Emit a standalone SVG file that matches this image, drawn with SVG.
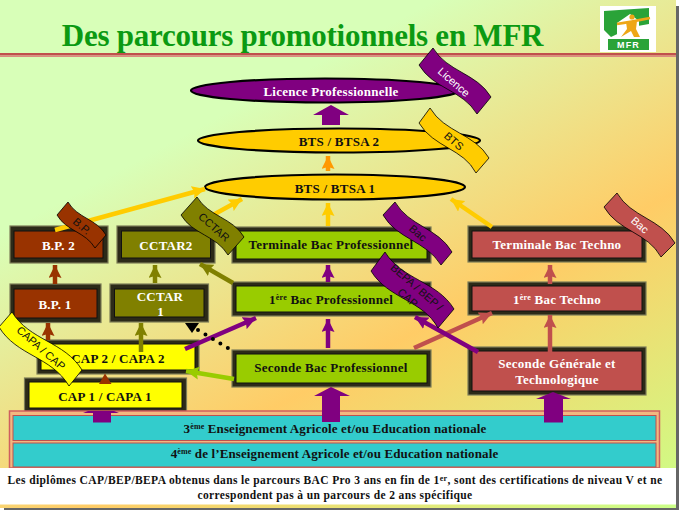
<svg xmlns="http://www.w3.org/2000/svg" width="686" height="520" viewBox="0 0 686 520">
<style>
.t{font-family:"Liberation Serif","Times New Roman",serif;font-weight:bold;text-anchor:middle;font-size:13px;letter-spacing:.25px}
.n{letter-spacing:.12px}
.w{fill:#fff}.k{fill:#111}
.b{font-family:"Liberation Sans",Arial,sans-serif;font-size:11px;text-anchor:middle}
.f{stroke:#7d7d58;stroke-width:1.2;fill:#2c2a18}
.i{stroke:#111;stroke-width:1}
.e{stroke:#000;stroke-width:2.2}
.br{fill:#993300}.ol{fill:#808000}.gr{fill:#99cc00}.ro{fill:#c0504d}.ye{fill:#ffff00}.go{fill:#ffcc00}.pu{fill:#800080}
.c{fill:none;stroke-width:4.5}
.bn{stroke:#000;stroke-width:.8}
.s{font-size:8px}
</style>
<defs>
<linearGradient id="bg" gradientUnits="userSpaceOnUse" x1="0" y1="0" x2="362" y2="673">
<stop offset="0" stop-color="#d8ffb8"/><stop offset=".27" stop-color="#d8ffb8"/><stop offset=".64" stop-color="#ffcc66"/><stop offset="1" stop-color="#ccff88"/>
</linearGradient>
<marker id="mgo" markerUnits="userSpaceOnUse" markerWidth="14" markerHeight="13" refX="13" refY="6.5" orient="auto"><path d="M0,0L13,6.5L0,13L2,6.5Z" fill="#ffcc00"/></marker>
<marker id="mor" markerUnits="userSpaceOnUse" markerWidth="14" markerHeight="13" refX="13" refY="6.5" orient="auto"><path d="M0,0L13,6.5L0,13L2,6.5Z" fill="#ff9900"/></marker>
<marker id="mbr" markerUnits="userSpaceOnUse" markerWidth="14" markerHeight="13" refX="13" refY="6.5" orient="auto"><path d="M0,0L13,6.5L0,13L2,6.5Z" fill="#993300"/></marker>
<marker id="mol" markerUnits="userSpaceOnUse" markerWidth="14" markerHeight="13" refX="13" refY="6.5" orient="auto"><path d="M0,0L13,6.5L0,13L2,6.5Z" fill="#808000"/></marker>
<marker id="mpu" markerUnits="userSpaceOnUse" markerWidth="14" markerHeight="13" refX="13" refY="6.5" orient="auto"><path d="M0,0L13,6.5L0,13L2,6.5Z" fill="#800080"/></marker>
<marker id="mgr" markerUnits="userSpaceOnUse" markerWidth="14" markerHeight="13" refX="13" refY="6.5" orient="auto"><path d="M0,0L13,6.5L0,13L2,6.5Z" fill="#99cc00"/></marker>
<marker id="mro" markerUnits="userSpaceOnUse" markerWidth="14" markerHeight="13" refX="13" refY="6.5" orient="auto"><path d="M0,0L13,6.5L0,13L2,6.5Z" fill="#c0504d"/></marker>
</defs>
<rect width="686" height="520" fill="#fff"/>
<rect x="4" y="6" width="675" height="504" fill="#666"/>
<rect width="676" height="508" fill="url(#bg)"/>
<g id="title">
<rect x="0" y="53" width="676" height="2.5" fill="#c0504d"/><rect x="0" y="55.5" width="676" height="1.5" fill="#dc8a80"/>
<text x="302.500" y="46" text-anchor="middle" font-family="'Liberation Serif','Times New Roman',serif" font-weight="bold" font-size="31" letter-spacing="-.25" fill="#0b9a12">Des parcours promotionnels en MFR</text>
</g>
<g id="logo">
<rect x="600" y="6" width="56" height="46" fill="#fff"/>
<path d="M604,11L649,8V24L632,27L611,37L604,30Z" fill="#2aa338"/>
<path d="M630,14L639,21V34H617V23Z" fill="#fff"/>
<path d="M617,24Q630,22 650,18" stroke="#eea616" stroke-width="2.500" fill="none"/>
<path d="M626,22L637,21L636,29L640,37H634L631,31L621,37L627,29Z" fill="#eea616"/>
<circle cx="632" cy="17" r="2.600" fill="#eea616"/>
<rect x="608" y="39" width="41" height="11" fill="#2aa338"/>
<text x="628.500" y="48" text-anchor="middle" font-family="'Liberation Sans',sans-serif" font-weight="bold" font-size="9" letter-spacing="1.200" fill="#fff">MFR</text>
</g>
<g id="licence"><ellipse class="e pu" cx="325" cy="90.500" rx="134" ry="12"/><text class="t w" x="331" y="96">Licence Professionnelle</text></g>
<g id="bts2"><ellipse class="e go" cx="339" cy="140.500" rx="141" ry="12"/><text class="t k" x="339" y="146">BTS / BTSA 2</text></g>
<g id="bts1"><ellipse class="e go" cx="335" cy="187" rx="130" ry="12.500"/><text class="t k" x="335" y="193">BTS / BTSA 1</text></g>
<g id="bp2"><rect class="f" x="10" y="226" width="98" height="37"/><rect class="i br" x="14" y="231" width="89" height="27"/><text class="t w" x="58.500" y="250">B.P. 2</text></g>
<g id="cctar2"><rect class="f" x="117" y="226" width="98" height="37"/><rect class="i ol" x="121.500" y="231" width="89" height="27"/><text class="t w" x="166" y="250">CCTAR2</text></g>
<g id="term-pro"><rect class="f" x="232" y="227" width="199" height="36"/><rect class="i gr" x="236" y="231" width="191" height="28"/><text class="t k" x="331" y="249">Terminale Bac Professionnel</text></g>
<g id="prem-pro"><rect class="f" x="232" y="282" width="199" height="34"/><rect class="i gr" x="236" y="286" width="191" height="26"/><text class="t k" x="331" y="304">1<tspan class="s" dy="-4">ère</tspan><tspan dy="4"> Bac Professionnel</tspan></text></g>
<g id="sec-pro"><rect class="f" x="232" y="350" width="199" height="37"/><rect class="i gr" x="236" y="354" width="191" height="29"/><text class="t k" x="331" y="372">Seconde Bac Professionnel</text></g>
<g id="term-techno"><rect class="f" x="468" y="226" width="178" height="36"/><rect class="i ro" x="472" y="231" width="170" height="27"/><text class="t w" x="557" y="249">Terminale Bac Techno</text></g>
<g id="prem-techno"><rect class="f" x="468" y="282" width="178" height="33"/><rect class="i ro" x="472" y="286" width="170" height="25"/><text class="t w" x="557" y="304">1<tspan class="s" dy="-4">ère</tspan><tspan dy="4"> Bac Techno</tspan></text></g>
<g id="sec-gen"><rect class="f" x="468" y="347" width="178" height="48"/><rect class="i ro" x="472" y="351" width="170" height="40"/><text class="t w" x="557" y="368">Seconde Générale  et</text><text class="t w" x="557" y="384">Technologique</text></g>
<g id="bp1"><rect class="f" x="10" y="284" width="91" height="38.500"/><rect class="i br" x="14" y="289" width="83" height="29"/><text class="t w" x="55" y="309">B.P. 1</text></g>
<g id="cctar1"><rect class="f" x="110" y="284" width="98.500" height="38"/><rect class="i ol" x="114.500" y="289" width="89.500" height="28"/><text class="t w" x="160" y="301">CCTAR</text><text class="t w" x="160.500" y="316">1</text></g>
<g id="cap2"><rect class="f" x="37" y="340" width="162" height="34"/><rect class="i ye" x="41" y="344" width="154" height="26"/><text class="t k" x="118" y="363">CAP 2 / CAPA 2</text></g>
<g id="cap1"><rect class="f" x="24.500" y="378" width="162" height="34"/><rect class="i ye" x="29" y="382" width="153" height="26"/><text class="t k" x="105" y="401">CAP 1 / CAPA 1</text></g>
<g id="niveaux">
<rect x="9.500" y="411" width="650" height="57" fill="#f2b880" stroke="#cf5f5f" stroke-width="1.500"/>
<rect x="13" y="415.500" width="643" height="25" fill="#33cccc" stroke="#c0504d"/>
<rect x="13" y="443" width="643" height="24" fill="#33cccc" stroke="#c0504d"/>
<text class="t k n" x="335" y="433">3<tspan class="s" dy="-4">ème</tspan><tspan dy="4"> Enseignement Agricole et/ou Education nationale</tspan></text>
<text class="t k n" x="334.500" y="458">4<tspan class="s" dy="-4">ème</tspan><tspan dy="4"> de l’Enseignement Agricole et/ou Education nationale</tspan></text>
</g>
<g id="note">
<rect x="0" y="468" width="676" height="36.500" fill="#fff"/>
<text class="k" font-family="'Liberation Serif',serif" font-weight="bold" font-size="11.500" letter-spacing=".38" text-anchor="middle" x="335" y="484">Les diplômes CAP/BEP/BEPA obtenus dans le parcours BAC Pro 3 ans en fin de 1<tspan class="s" dy="-3">er</tspan><tspan dy="3">, sont des certifications de niveau V et ne</tspan></text>
<text class="k" font-family="'Liberation Serif',serif" font-weight="bold" font-size="11.500" letter-spacing=".38" text-anchor="middle" x="335" y="499">correspondent pas à un parcours de 2 ans spécifique</text>
</g>
<g id="connectors">
<path class="pu" d="M322,125V115H313L331,105L349,115H340V125Z"/>
<path class="pu" d="M322,422V396H314L331,387L350,396H340V422Z"/>
<path class="pu" d="M544,422.500V399H536L553,392L571,399H563V422.500Z"/>
<path class="pu" d="M93,422.500V413H83L88,411H114L119,413H111V422.500Z"/>
<path class="br" d="M105,373.500L111.500,384H99Z"/>
<g class="c">
<line x1="55" y1="230" x2="205" y2="189" stroke="#ffcc00" marker-end="url(#mgo)"/>
<line x1="213" y1="215" x2="242" y2="199" stroke="#ffcc00" marker-end="url(#mgo)"/>
<line x1="328" y1="171" x2="328" y2="156" stroke="#ff9900" marker-end="url(#mor)"/>
<line x1="328" y1="226" x2="328" y2="203" stroke="#ffcc00" marker-end="url(#mgo)"/>
<line x1="492" y1="227" x2="451" y2="199" stroke="#ffcc00" marker-end="url(#mgo)"/>
<line x1="55" y1="284" x2="55" y2="265" stroke="#993300" marker-end="url(#mbr)"/>
<line x1="155" y1="283" x2="155" y2="265" stroke="#808000" marker-end="url(#mol)"/>
<line x1="233" y1="283" x2="200" y2="264" stroke="#808000" marker-end="url(#mol)"/>
<line x1="328" y1="282" x2="328" y2="265" stroke="#800080" marker-end="url(#mpu)"/>
<line x1="328" y1="348" x2="328" y2="319" stroke="#800080" marker-end="url(#mpu)"/>
<line x1="48" y1="340" x2="48" y2="323" stroke="#993300" marker-end="url(#mbr)"/>
<line x1="141" y1="352" x2="141" y2="323" stroke="#808000" marker-end="url(#mol)"/>
<line x1="185" y1="349" x2="256" y2="318" stroke="#800080" marker-end="url(#mpu)"/>
<line x1="234" y1="379" x2="186" y2="371" stroke="#99cc00" marker-end="url(#mgr)"/>
<line x1="414" y1="348" x2="492" y2="313" stroke="#c0504d" marker-end="url(#mro)"/>
<line x1="478" y1="352" x2="415" y2="317" stroke="#800080" marker-end="url(#mpu)"/>
<line x1="550" y1="284" x2="550" y2="265" stroke="#c0504d" marker-end="url(#mro)"/>
<line x1="550" y1="352" x2="550" y2="315" stroke="#c0504d" marker-end="url(#mro)"/>
</g>
<path d="M185,323H199L192,333Z" fill="#000"/>
<line x1="198" y1="330" x2="228" y2="348" stroke="#000" stroke-width="4" stroke-linecap="round" stroke-dasharray="0 8.700"/>
</g>
<g id="banner-licence"><path class="bn pu" d="M433,48C447.400,72.100 476.600,72.900 491,97L477,114C462.600,89.900 433.400,89.100 419,65Z"/><text class="b w" transform="translate(451.400,85) rotate(41)">Licence</text></g>
<g id="banner-bts"><path class="bn go" d="M430,108C444.600,132.600 474.400,133.400 489,158L476,173C463.400,148.400 433.600,147.600 419,123Z"/><text class="b k" transform="translate(451.400,144) rotate(41)">BTS</text></g>
<g id="banner-bp"><path class="bn br" d="M68,202C77.300,218.200 96.700,218.900 106,235L95,248C85.700,231.900 66.300,231.200 57,215Z"/><text class="b k" transform="translate(79.400,229) rotate(41)">B.P.</text></g>
<g id="banner-cctar"><path class="bn ol" d="M197,197C208.600,216.600 232.400,217.400 244,237L228,255C216.400,235.400 192.600,234.600 181,215Z"/><text class="b k" transform="translate(211.400,230) rotate(41)">CCTAR</text></g>
<g id="banner-bac-pro"><path class="bn pu" d="M395,202C409,226.300 438,227.700 452,252L441,265C426,240.700 397,239.300 383,215Z"/><text class="b k" transform="translate(415.400,236) rotate(41)">Bac</text></g>
<g id="banner-bepa"><path class="bn pu" d="M385,252C402.300,280.200 436.700,280.800 454,309L438,328C422.700,299.800 388.300,299.200 371,271Z"/><text class="b k" transform="translate(417,287) rotate(41)"><tspan x="0" y="4">BEPA / BEP /</tspan><tspan x="0" y="18">CAP</tspan></text></g>
<g id="banner-bac-techno"><path class="bn ro" d="M617,193C631.300,217.500 660.700,218.500 675,243L661,257C647.700,232.500 618.300,231.500 604,207Z"/><text class="b w" transform="translate(637.400,228) rotate(41)">Bac</text></g>
<g id="banner-capa"><path class="bn ye" d="M12,312C29.500,340.700 64.500,341.300 82,370L69,386C51.500,356.300 16.500,356 -1,327Z"/><text class="b k" transform="translate(38.400,351) rotate(41)">CAPA / CAP</text></g>
</svg>
